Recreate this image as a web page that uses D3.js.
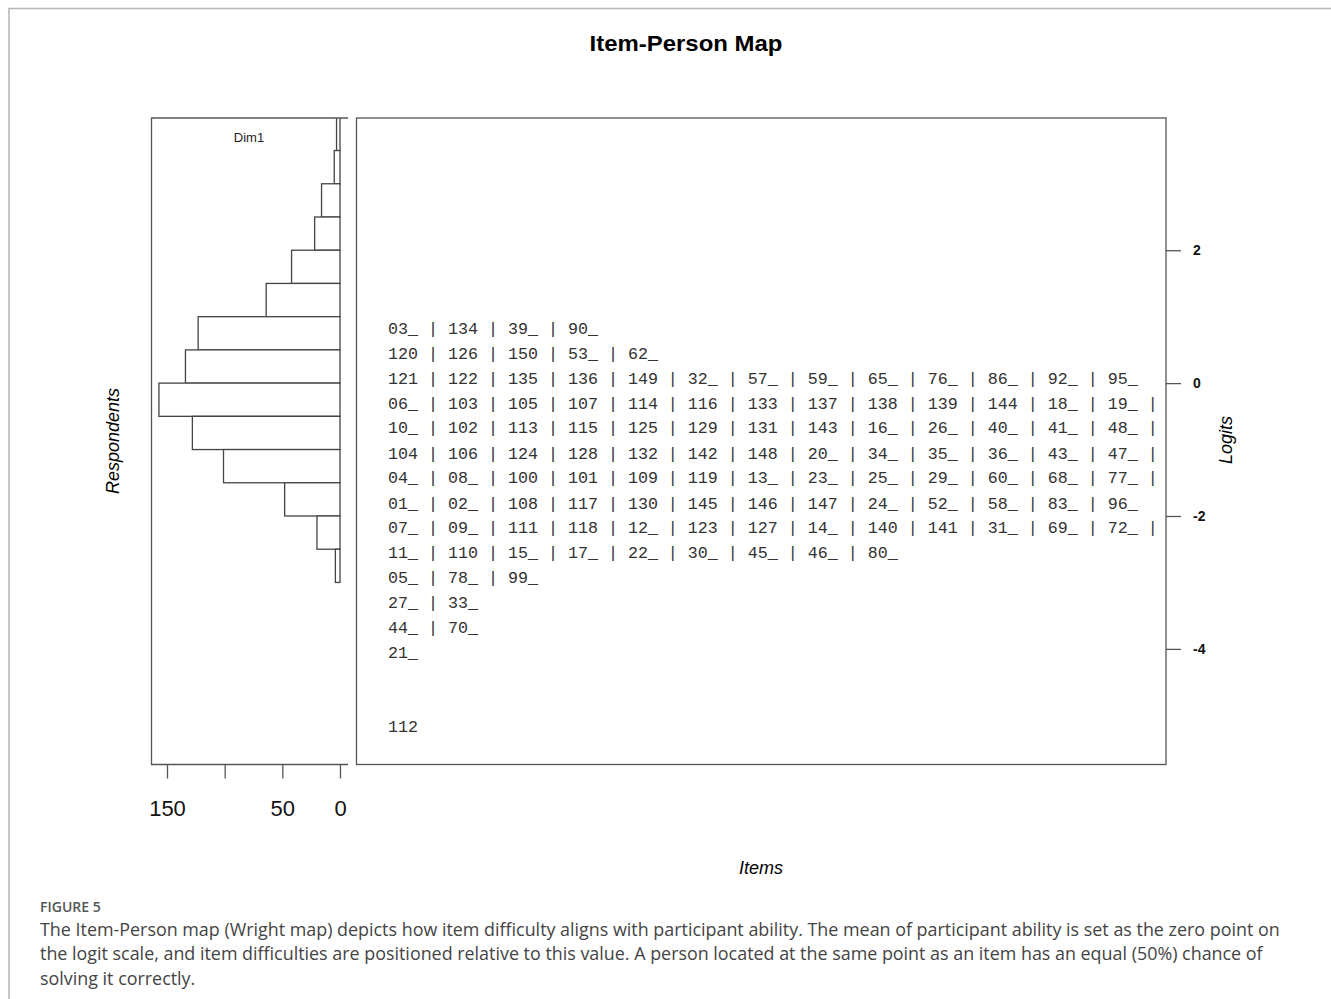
<!DOCTYPE html>
<html>
<head>
<meta charset="utf-8">
<title>Item-Person Map</title>
<script src="https://cdn.jsdelivr.net/npm/d3@7"></script>
<style>
  body { margin: 0; background: #fff; }
  svg { display: block; }
</style>
</head>
<body>
<div id="chart"></div>
<script>
// person histogram: lower edge of each 0.5-logit bin and respondent counts
var binLower = [3.5, 3, 2.5, 2, 1.5, 1, 0.5, 0, -0.5, -1, -1.5, -2, -2.5, -3];
var binCounts = [3, 5, 16, 22, 42, 64, 123, 134, 157, 128, 101, 48, 20, 4];
var binWidth = 0.5;

// item rows (logit position of each text row + item labels)
var rowLogits = [0.83, 0.45, 0.08, -0.30, -0.67, -1.05, -1.42, -1.80, -2.17, -2.55, -2.92, -3.30, -3.67, -4.05, -5.17];
var row01 = ["03_", "134", "39_", "90_"];
var row02 = ["120", "126", "150", "53_", "62_"];
var row03 = ["121", "122", "135", "136", "149", "32_", "57_", "59_", "65_", "76_", "86_", "92_", "95_"];
var row04 = ["06_", "103", "105", "107", "114", "116", "133", "137", "138", "139", "144", "18_", "19_"];
var row05 = ["10_", "102", "113", "115", "125", "129", "131", "143", "16_", "26_", "40_", "41_", "48_"];
var row06 = ["104", "106", "124", "128", "132", "142", "148", "20_", "34_", "35_", "36_", "43_", "47_"];
var row07 = ["04_", "08_", "100", "101", "109", "119", "13_", "23_", "25_", "29_", "60_", "68_", "77_"];
var row08 = ["01_", "02_", "108", "117", "130", "145", "146", "147", "24_", "52_", "58_", "83_", "96_"];
var row09 = ["07_", "09_", "111", "118", "12_", "123", "127", "14_", "140", "141", "31_", "69_", "72_"];
var row10 = ["11_", "110", "15_", "17_", "22_", "30_", "45_", "46_", "80_"];
var row11 = ["05_", "78_", "99_"];
var row12 = ["27_", "33_"];
var row13 = ["44_", "70_"];
var row14 = ["21_"];
var row15 = ["112"];
var itemRows = [row01, row02, row03, row04, row05, row06, row07, row08, row09, row10, row11, row12, row13, row14, row15];
// rows that were cut off in the original output end with a trailing bar
var rowTruncated = [false, false, false, true, true, true, true, false, true, false, false, false, false, false, false];

// axes
var logitTicks = [2, 0, -2, -4];
var countTicks = [150, 100, 50, 0];
var countTickLabels = ["150", "", "50", "0"];

var captionHead = "FIGURE 5";
var captionLines = [
    "The Item-Person map (Wright map) depicts how item difficulty aligns with participant ability. The mean of participant ability is set as the zero point on",
    "the logit scale, and item difficulties are positioned relative to this value. A person located at the same point as an item has an equal (50%) chance of",
    "solving it correctly."
];

var W = 1331, H = 999;
var config = {
    plotTop     : 118,
    plotBottom  : 764.5,
    histLeft    : 151.5,
    histRight   : 348,
    itemLeft    : 356.5,
    itemRight   : 1166,
    textLeft    : 388,
    stroke      : '#555'
};

var svg = d3.select('#chart').append('svg')
    .attr('width', W)
    .attr('height', H)
    .style('font-family', 'Liberation Sans, Arial, sans-serif');

// outer figure frame
svg.append('path')
    .attr('d', 'M9,999 V8.5 H' + W)
    .attr('fill', 'none')
    .attr('stroke', '#b5b5b5')
    .attr('stroke-width', 1.5);

var y = d3.scaleLinear()
    .domain([3.99, -5.74])
    .range([config.plotTop, config.plotBottom]);

var x = d3.scaleLinear()
    .domain([0, 150])
    .range([340, 167]);

// title
svg.append('text')
    .attr('x', 686)
    .attr('y', 51)
    .attr('text-anchor', 'middle')
    .style('font-size', '22px')
    .style('font-weight', 'bold')
    .attr('textLength', 193)
    .attr('lengthAdjust', 'spacingAndGlyphs')
    .text('Item-Person Map');

// ---- person histogram panel
svg.append('clipPath').attr('id', 'histClip')
    .append('rect')
    .attr('x', config.histLeft)
    .attr('y', config.plotTop)
    .attr('width', config.histRight - config.histLeft)
    .attr('height', config.plotBottom - config.plotTop);

var bins = binLower.map(function(lo, i) { return {lo: lo, n: binCounts[i]}; });

svg.append('g')
    .attr('clip-path', 'url(#histClip)')
    .selectAll('rect')
    .data(bins)
    .enter()
    .append('rect')
    .attr('x', function(d) { return x(d.n); })
    .attr('y', function(d) { return y(d.lo + binWidth); })
    .attr('width', function(d) { return x(0) - x(d.n); })
    .attr('height', function(d) { return y(d.lo) - y(d.lo + binWidth); })
    .attr('fill', '#fff')
    .attr('stroke', '#444')
    .attr('stroke-width', 1.3);

svg.append('path')
    .attr('d', 'M' + config.histRight + ',' + config.plotTop + ' H' + config.histLeft +
               ' V' + config.plotBottom + ' H' + config.histRight)
    .attr('fill', 'none')
    .attr('stroke', config.stroke)
    .attr('stroke-width', 1.3);

svg.append('text')
    .attr('x', 249)
    .attr('y', 142)
    .attr('text-anchor', 'middle')
    .style('font-size', '13px')
    .attr('fill', '#222')
    .text('Dim1');

var countAxis = d3.axisBottom(x)
    .tickValues(countTicks)
    .tickSize(14)
    .tickPadding(22)
    .tickFormat(function(d, i) { return countTickLabels[i]; });

var gx = svg.append('g')
    .attr('transform', 'translate(0,' + config.plotBottom + ')')
    .call(countAxis);
gx.select('.domain').remove();
gx.selectAll('line').attr('stroke', config.stroke).attr('stroke-width', 1.3);
gx.selectAll('text')
    .style('font-size', '22px')
    .style('font-family', 'Liberation Sans, Arial, sans-serif')
    .attr('fill', '#111');

svg.append('text')
    .attr('transform', 'translate(119,441) rotate(-90)')
    .attr('text-anchor', 'middle')
    .style('font-size', '18px')
    .style('font-style', 'italic')
    .text('Respondents');

// ---- item panel
svg.append('rect')
    .attr('x', config.itemLeft)
    .attr('y', config.plotTop)
    .attr('width', config.itemRight - config.itemLeft)
    .attr('height', config.plotBottom - config.plotTop)
    .attr('fill', 'none')
    .attr('stroke', config.stroke)
    .attr('stroke-width', 1.3);

svg.append('g')
    .selectAll('text')
    .data(itemRows)
    .enter()
    .append('text')
    .attr('x', config.textLeft)
    .attr('y', function(d, i) { return y(rowLogits[i]); })
    .attr('dy', '0.35em')
    .attr('fill', '#333')
    .style('font-family', 'Liberation Mono, Courier New, monospace')
    .style('font-size', '16.67px')
    .style('white-space', 'pre')
    .text(function(d, i) { return d.join(' | ') + (rowTruncated[i] ? ' |' : ''); });

// R prints a plain hyphen for negatives
var logitAxis = d3.axisRight(y)
    .tickValues(logitTicks)
    .tickSize(15)
    .tickPadding(12)
    .tickFormat(function(d) { return String(d); });

var gy = svg.append('g')
    .attr('transform', 'translate(' + config.itemRight + ',0)')
    .call(logitAxis);
gy.select('.domain').remove();
gy.selectAll('line').attr('stroke', config.stroke).attr('stroke-width', 1.3);
gy.selectAll('text')
    .style('font-size', '14px')
    .style('font-weight', 'bold')
    .style('font-family', 'Liberation Sans, Arial, sans-serif')
    .attr('fill', '#111');

svg.append('text')
    .attr('transform', 'translate(1232,440) rotate(-90)')
    .attr('text-anchor', 'middle')
    .style('font-size', '18px')
    .style('font-style', 'italic')
    .text('Logits');

svg.append('text')
    .attr('x', 761)
    .attr('y', 874)
    .attr('text-anchor', 'middle')
    .style('font-size', '18px')
    .style('font-style', 'italic')
    .text('Items');

// ---- caption
svg.append('text')
    .attr('x', 40)
    .attr('y', 912)
    .style('font-family', 'Open Sans, Noto Sans, sans-serif')
    .style('font-size', '14px')
    .style('font-weight', '600')
    .attr('fill', '#555')
    .text(captionHead);

svg.append('g')
    .selectAll('text')
    .data(captionLines)
    .enter()
    .append('text')
    .attr('x', 40)
    .attr('y', function(d, i) { return 936 + i * 24.3; })
    .style('font-family', 'Open Sans, Noto Sans, sans-serif')
    .style('font-size', '17.9px')
    .attr('fill', '#444')
    .text(function(d) { return d; });
</script>
</body>
</html>
